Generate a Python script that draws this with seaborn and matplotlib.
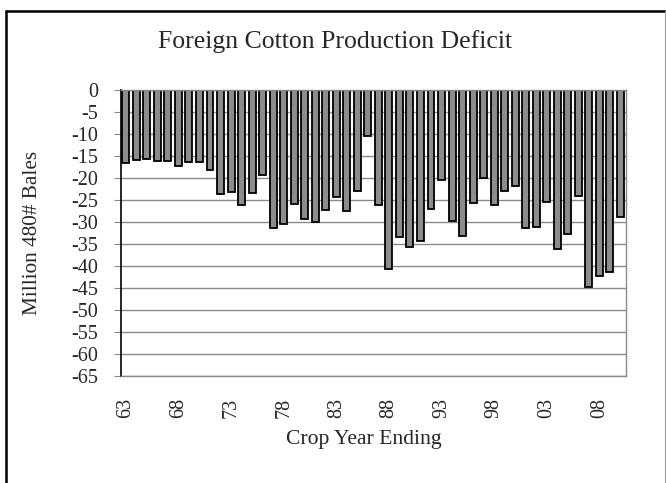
import matplotlib
matplotlib.use("Agg")
import matplotlib.pyplot as plt
from matplotlib.lines import Line2D
import seaborn as sns

# crop year ending, 1963 .. 2010
years = [f"{y % 100:02d}" for y in range(1963, 2011)]
deficit = [-16.7, -16.0, -15.8, -16.2, -16.2, -17.2, -16.3, -16.3, -18.1, -23.6,
           -23.1, -26.1, -23.4, -19.3, -31.4, -30.5, -26.0, -29.4, -30.1, -27.2,
           -24.3, -27.5, -22.9, -10.5, -26.1, -40.7, -33.5, -35.7, -34.3, -27.1,
           -20.4, -29.8, -33.2, -25.6, -20.1, -26.1, -22.9, -21.8, -31.4, -31.2,
           -25.4, -36.1, -32.7, -24.2, -44.8, -42.3, -41.5, -28.9]
y_ticks = list(range(0, -70, -5))

sns.set_style("white")
plt.rcParams['font.family'] = ['Liberation Serif', 'DejaVu Serif']

fig = plt.figure(figsize=(6.66, 4.83), dpi=100)
ax = fig.add_axes([0.181, 0.222, 0.7585, 0.5917])

ax.yaxis.grid(True, color="#8a8a8a", linewidth=1.0)
ax.set_axisbelow(True)

sns.barplot(x=years, y=deficit, color="#8c8c8c", saturation=1,
            edgecolor="black", linewidth=1.3, width=0.66, ax=ax)

ax.set_ylim(-65, 0)
ax.set_xlim(-0.5, len(years) - 0.5)
ax.set_yticks(y_ticks)
ax.set_yticklabels([str(v) for v in y_ticks], fontsize=14.5)
ax.tick_params(axis="y", length=5, color="#8a8a8a", pad=11, left=True)

pos = list(range(0, len(years), 5))
ax.set_xticks(pos)
ax.set_xticklabels([years[i] for i in pos], rotation=90, fontsize=14.5)
ax.tick_params(axis="x", length=0, pad=16)

for s in ["top", "right", "bottom"]:
    ax.spines[s].set_color("#8a8a8a")
    ax.spines[s].set_linewidth(1.0)
ax.spines["left"].set_color("black")
ax.spines["left"].set_linewidth(1.2)

ax.set_ylabel("Million 480# Bales", fontsize=15.3)
ax.set_xlabel("Crop Year Ending", fontsize=15.6)
ax.yaxis.set_label_coords(-0.156, 0.5)
ax.xaxis.set_label_coords(0.481, -0.19)

fig.text(0.503, 1 - 48 / 483, "Foreign Cotton Production Deficit",
         ha="center", va="baseline", fontsize=18.5)

# outer frame
W, H = 666, 483
fig.add_artist(Line2D([6 / W, 6 / W], [0, 1 - 10.5 / H], color="black", linewidth=1.8))
fig.add_artist(Line2D([6 / W, 665 / W], [1 - 10.5 / H, 1 - 10.5 / H], color="black", linewidth=1.8))
fig.add_artist(Line2D([665 / W, 665 / W], [0, 1 - 10.5 / H], color="#9a9a9a", linewidth=0.8))

fig.savefig("out.png", dpi=100)
